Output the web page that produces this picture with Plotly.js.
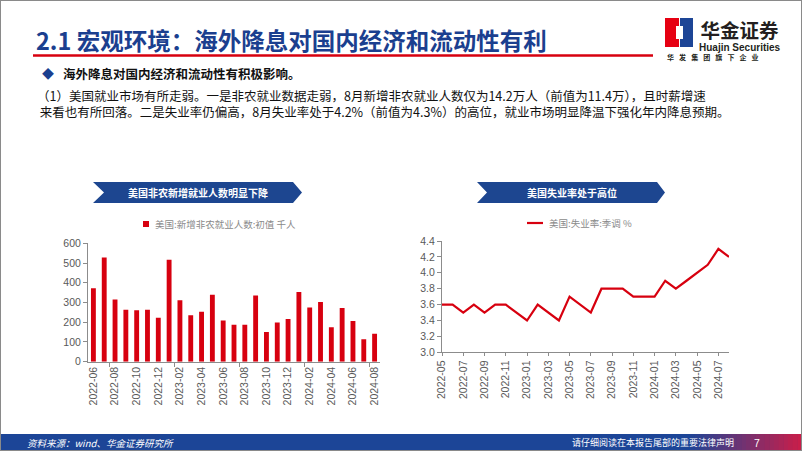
<!DOCTYPE html>
<html><head><meta charset="utf-8">
<script src="https://cdn.plot.ly/plotly-3.0.1.min.js"></script>
<style>html,body{margin:0;padding:0;background:#fff;}#c{width:802px;height:451px;}</style>
</head><body><div id="c"></div>
<script>
// ---- data ----
const payrollMonths = ['2022-06','2022-07','2022-08','2022-09','2022-10','2022-11','2022-12','2023-01','2023-02','2023-03','2023-04','2023-05','2023-06','2023-07','2023-08','2023-09','2023-10','2023-11','2023-12','2024-01','2024-02','2024-03','2024-04','2024-05','2024-06','2024-07','2024-08'];
const payrolls = [372,528,315,263,261,263,223,517,311,236,253,339,209,187,187,336,150,199,216,353,275,303,175,272,206,114,142];
const payrollTicks = ['2022-06','2022-08','2022-10','2022-12','2023-02','2023-04','2023-06','2023-08','2023-10','2023-12','2024-02','2024-04','2024-06','2024-08'];
const rateMonths = ['2022-05','2022-06','2022-07','2022-08','2022-09','2022-10','2022-11','2022-12','2023-01','2023-02','2023-03','2023-04','2023-05','2023-06','2023-07','2023-08','2023-09','2023-10','2023-11','2023-12','2024-01','2024-02','2024-03','2024-04','2024-05','2024-06','2024-07','2024-08'];
const unemployment = [3.6,3.6,3.5,3.6,3.5,3.6,3.6,3.5,3.4,3.6,3.5,3.4,3.7,3.6,3.5,3.8,3.8,3.8,3.7,3.7,3.7,3.9,3.8,3.9,4.0,4.1,4.3,4.2];
const rateTicks = ['2022-05','2022-07','2022-09','2022-11','2023-01','2023-03','2023-05','2023-07','2023-09','2023-11','2024-01','2024-03','2024-05','2024-07'];
const payrollName = '美国:新增非农就业人数:初值 千人';
const rateName = '美国:失业率:季调 %';

// ---- helpers (page pixels -> paper) ----
const W = 802, H = 451;
const X = p => p / W;
const Y = p => 1 - p / H;
const CJK = '"Noto Sans CJK SC", "Noto Sans", sans-serif';
const ARIAL = '"Liberation Sans", Arial, sans-serif';
const RED = '#d7000f';
const NAVY = '#1d4690';

const traces = [
  {type:'bar', x: payrollMonths, y: payrolls, name: payrollName, marker:{color:RED}, xaxis:'x', yaxis:'y', showlegend:false, hoverinfo:'x+y'},
  {type:'scatter', mode:'lines', x: rateMonths, y: unemployment, name: rateName, line:{color:RED, width:2.2}, xaxis:'x3', yaxis:'y3', showlegend:false}
];

const tickFont = {family: ARIAL, size: 10.5, color: '#595959'};
const axLine = '#8c8c8c';

const shapes = [];
const annotations = [];
function rect(x0,y0,x1,y1,fill,extra){ shapes.push(Object.assign({type:'rect', xref:'paper', yref:'paper', x0:X(x0), x1:X(x1), y0:Y(y1), y1:Y(y0), fillcolor:fill, line:{width:0}, layer:'below'}, extra||{})); }
function path(pts, fill){ shapes.push({type:'path', xref:'paper', yref:'paper', path: 'M' + pts.map(p => X(p[0]) + ',' + Y(p[1])).join(' L') + ' Z', fillcolor: fill, line:{width:0}, layer:'below'}); }
function line(x0,y0,x1,y1,color,width){ shapes.push({type:'line', xref:'paper', yref:'paper', x0:X(x0), x1:X(x1), y0:Y(y0), y1:Y(y1), line:{color:color, width:width}}); }
function text(t, x, y, size, color, opts){ annotations.push(Object.assign({text:t, xref:'paper', yref:'paper', x:X(x), y:Y(y), xanchor:'left', yanchor:'middle', showarrow:false, font:{family:CJK, size:size, color:color}}, opts||{})); }

// slide frame
shapes.push({type:'rect', xref:'paper', yref:'paper', x0:0, x1:1, y0:0, y1:1, line:{color:'#8a8a8a', width:2}, fillcolor:'rgba(0,0,0,0)'});

// title + red rule
text('2.1 宏观环境：海外降息对国内经济和流动性有利', 34, 40, 23.5, '#1b3f8f', {font:{family:CJK, size:23.5, color:'#1b3f8f', weight:700}});
line(33, 55.5, 653, 55.5, RED, 2.5);

// logo
rect(665, 18, 679, 47, '#e60012', {layer:'above'});
rect(680, 18, 693, 47, '#1d4596', {layer:'above'});
rect(676, 26, 683, 39, '#ffffff', {layer:'above'});
rect(679, 18, 680, 26, '#ffffff', {layer:'above'});
rect(679, 39, 680, 47, '#ffffff', {layer:'above'});
text('<span style="font-size:19.5px;font-family:Noto Sans CJK SC">华金证券</span><br>Huajin Securities', 697, 34, 10, '#231f20', {font:{family:ARIAL, size:10, color:'#231f20', weight:700}});
text('华\u2002 发\u2002 集\u2002 团\u2002 旗\u2002 下\u2002 企\u2002 业', 665, 57.5, 7, '#231f20', {font:{family:CJK, size:7, color:'#231f20', weight:700}});

// bullet + paragraph
text('◆', 40, 73, 12, '#1b3f8f');
text('海外降息对国内经济和流动性有积极影响。', 61, 73, 12.5, '#111', {font:{family:CJK, size:12.5, color:'#111', weight:700}});
text('（1）美国就业市场有所走弱。一是非农就业数据走弱，8月新增非农就业人数仅为14.2万人（前值为11.4万），且时薪增速<br>&nbsp;来看也有所回落。二是失业率仍偏高，8月失业率处于4.2%（前值为4.3%）的高位，就业市场明显降温下强化年内降息预期。', 35, 103, 12.5, '#111', {align:'left'});

// banners
path([[93,182],[293,182],[302,192.5],[293,203],[93,203],[104,192.5]], NAVY);
text('美国非农新增就业人数明显下降', 198, 192.5, 10, '#fff', {xanchor:'center', font:{family:CJK, size:10, color:'#fff', weight:700}});
path([[477,182],[657,182],[665,192.5],[657,203],[477,203],[487,192.5]], NAVY);
text('美国失业率处于高位', 572, 192.5, 10, '#fff', {xanchor:'center', font:{family:CJK, size:10, color:'#fff', weight:700}});

// legends
rect(143, 221, 149, 227, RED, {layer:'above'});
text(payrollName, 153, 224, 9.5, '#8a8a8a');
line(527, 223, 543, 223, RED, 2.2);
text(rateName, 547, 223, 9.5, '#8a8a8a');

// footer
rect(0, 434, 802, 451, '#1c4597');
const gradSteps = 24;
for (let i = 0; i < gradSteps; i++) {
  const t = (i + 1) / gradSteps;
  const r = Math.round(0x1c + (0xc8 - 0x1c) * t), g = Math.round(0x45 + (0x1e - 0x45) * t), b = Math.round(0x97 + (0x4a - 0x97) * t);
  rect(690 + i * (112 / gradSteps), 434, 690 + (i + 1) * (112 / gradSteps) + 0.5, 451, `rgb(${r},${g},${b})`);
}
text('<i>资料来源：wind、华金证券研究所</i>', 25, 442.5, 9.5, '#fff');
text('请仔细阅读在本报告尾部的重要法律声明', 570, 442.5, 9, '#fff');
text('7', 752, 442.5, 10.5, '#fff', {font:{family:ARIAL, size:10.5, color:'#fff'}});

const layout = {
  width: W, height: H, margin:{l:0, r:0, t:0, b:0}, paper_bgcolor:'#fff', plot_bgcolor:'rgba(0,0,0,0)',
  showlegend:false, bargap:0.55,
  xaxis: {domain:[X(88), X(380)], anchor:'y', type:'category', tickvals: payrollTicks, ticktext: payrollTicks, tickangle:-90, tickfont:tickFont, ticks:'', showline:true, linecolor:axLine, linewidth:1, showgrid:false, zeroline:false, range:[-0.5, payrollMonths.length - 0.5]},
  xaxis2: {domain:[X(88), X(380)], anchor:'y', overlaying:'x', type:'linear', range:[-0.5, payrollMonths.length - 0.5], tickvals:[1.5,7.5,13.5,19.5,25.5], showticklabels:false, ticks:'outside', ticklen:4, tickcolor:axLine, showgrid:false, zeroline:false, showline:false, side:'bottom'},
  yaxis: {domain:[Y(361.7), Y(243.3)], anchor:'x', range:[0,600], dtick:100, tickfont:tickFont, ticks:'outside', ticklen:4, tickcolor:axLine, showline:true, linecolor:axLine, showgrid:false, zeroline:false},
  xaxis3: {domain:[X(442), X(729)], anchor:'y3', type:'category', range:[0, rateMonths.length - 1], tickvals: rateTicks, ticktext: rateTicks, tickangle:-90, tickfont:tickFont, ticks:'outside', ticklen:3, tickcolor:axLine, showline:true, linecolor:axLine, showgrid:false, zeroline:false},
  yaxis3: {domain:[Y(352.3), Y(241)], anchor:'x3', range:[3.0,4.4], dtick:0.2, tickformat:'.1f', tickfont:tickFont, ticks:'outside', ticklen:4, tickcolor:axLine, showline:true, linecolor:axLine, showgrid:false, zeroline:false},
  shapes: shapes, annotations: annotations
};
// dummy trace to activate xaxis2
traces.push({type:'scatter', x:[], y:[], xaxis:'x2', yaxis:'y', showlegend:false, hoverinfo:'skip'});
Plotly.newPlot('c', traces, layout, {displayModeBar:false, staticPlot:true});
</script></body></html>
